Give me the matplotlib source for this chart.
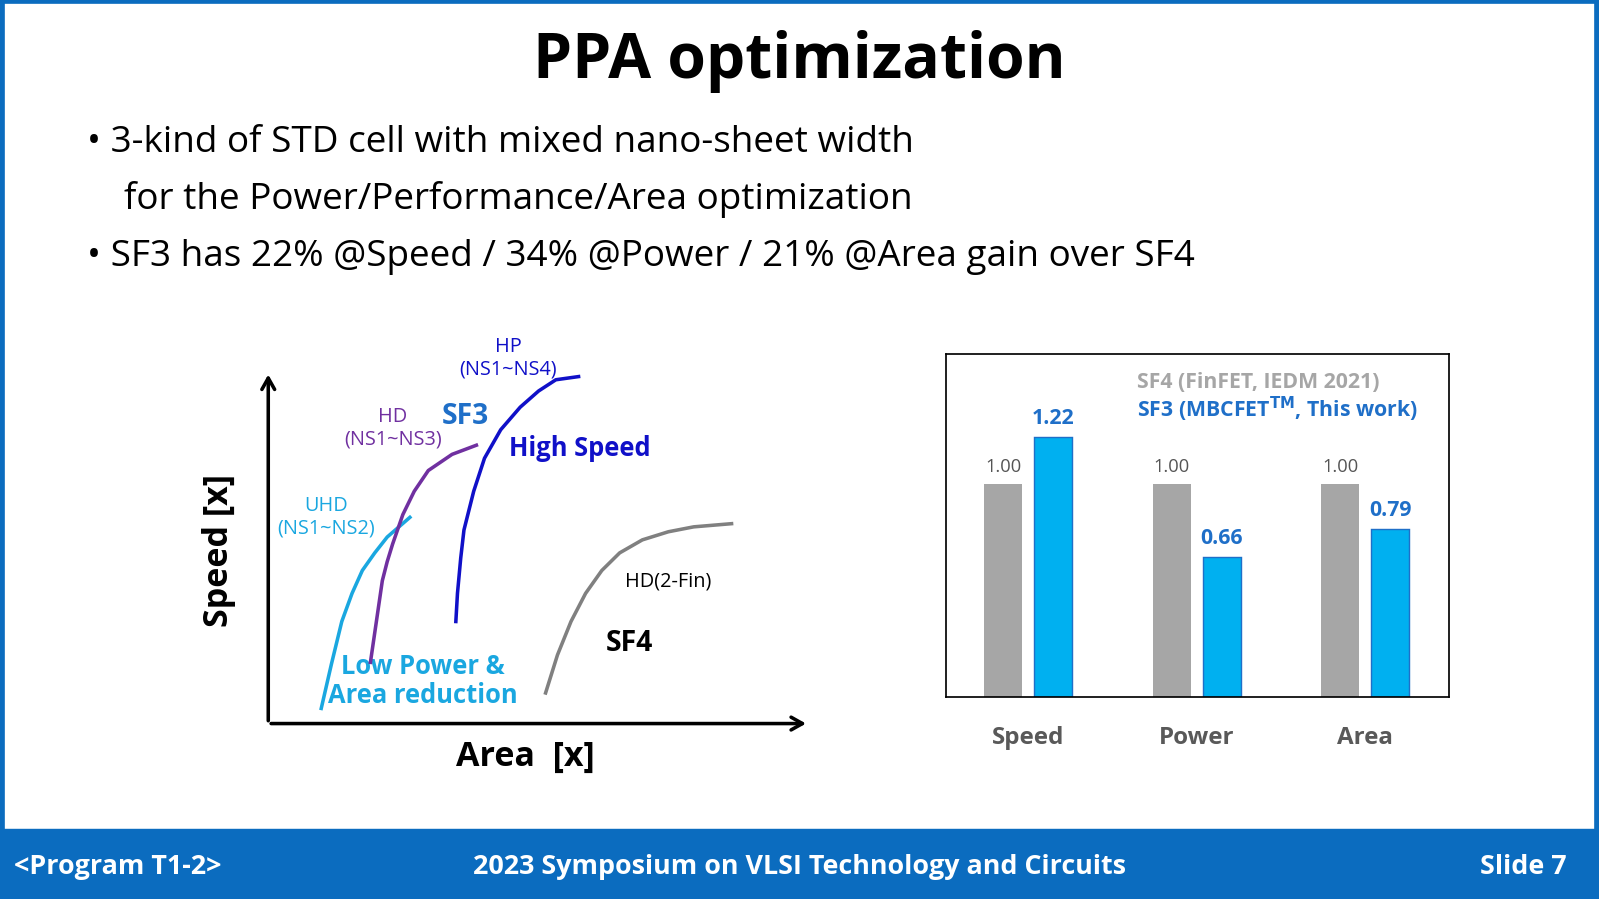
import matplotlib.pyplot as plt
from matplotlib.patches import Rectangle

plt.rcParams['font.family'] = ['Open Sans', 'DejaVu Sans']

# bar chart data
groups = ['Speed', 'Power', 'Area']
sf4 = [1.00, 1.00, 1.00]
sf3 = [1.22, 0.66, 0.79]

# schematic curves (area, speed) in arbitrary units 0..10
uhd_x = [0.98, 1.17, 1.36, 1.55, 1.74, 1.97, 2.2, 2.62]
uhd_y = [0.43, 1.7, 2.9, 3.7, 4.35, 4.85, 5.3, 5.86]
hd_x = [1.89, 2.0, 2.11, 2.2, 2.3, 2.49, 2.7, 2.96, 3.4, 3.85]
hd_y = [1.74, 2.9, 4.06, 4.6, 5.1, 5.94, 6.6, 7.19, 7.65, 7.91]
hp_x = [3.47, 3.5, 3.56, 3.62, 3.8, 4.0, 4.3, 4.66, 5.0, 5.32, 5.74]
hp_y = [2.9, 3.7, 4.7, 5.5, 6.6, 7.54, 8.35, 8.99, 9.45, 9.77, 9.86]
fin_x = [5.13, 5.35, 5.6, 5.87, 6.17, 6.5, 6.92, 7.4, 7.87, 8.57]
fin_y = [0.87, 1.95, 2.9, 3.7, 4.35, 4.85, 5.22, 5.45, 5.59, 5.68]

BLUE = '#0b6cbf'
W, H = 1568, 882
fig = plt.figure(figsize=(15.68, 8.82), dpi=102)
ov = fig.add_axes([0, 0, 1, 1])
ov.set_xlim(0, W)
ov.set_ylim(H, 0)
ov.axis('off')

# frame and footer
ov.add_patch(Rectangle((2, 2), W - 4, H - 4, fill=False, ec=BLUE, lw=4))
ov.add_patch(Rectangle((0, 813), W, 69, color=BLUE))
ov.text(14, 850, '<Program T1-2>', color='white', fontsize=19, va='center', fontweight='bold')
ov.text(784, 850, '2023 Symposium on VLSI Technology and Circuits', color='white',
        fontsize=19, va='center', ha='center', fontweight='bold')
ov.text(1536, 850, 'Slide 7', color='white', fontsize=19, va='center', ha='right', fontweight='bold')

ov.text(784, 60, 'PPA optimization', fontsize=44, fontweight='bold', ha='center', va='center')
ov.text(85, 140, '\u2022 3-kind of STD cell with mixed nano-sheet width', fontsize=26, va='center')
ov.text(122, 196, 'for the Power/Performance/Area optimization', fontsize=26, va='center')
ov.text(85, 252, '\u2022 SF3 has 22% @Speed / 34% @Power / 21% @Area gain over SF4',
        fontsize=26, va='center')

# left schematic
ax = fig.add_axes([263 / W, 1 - 710 / H, 530 / W, 345 / H])
ax.set_xlim(0, 10)
ax.set_ylim(0, 10)
ax.axis('off')
arr = dict(arrowstyle='->,head_length=0.8,head_width=0.45', lw=2.5, color='black')
ax.annotate('', xy=(10, 0), xytext=(0, 0), arrowprops=arr, annotation_clip=False)
ax.annotate('', xy=(0, 10), xytext=(0, 0), arrowprops=arr, annotation_clip=False)
ax.plot(uhd_x, uhd_y, color='#1aa7e0', lw=2.5, clip_on=False)
ax.plot(hd_x, hd_y, color='#7030a0', lw=2.5, clip_on=False)
ax.plot(hp_x, hp_y, color='#1010c8', lw=2.5, clip_on=False)
ax.plot(fin_x, fin_y, color='#808080', lw=2.5, clip_on=False)

ov.text(215, 540, 'Speed [x]', fontsize=24, fontweight='bold', rotation=90, ha='center', va='center')
ov.text(515, 742, 'Area  [x]', fontsize=24, fontweight='bold', ha='center', va='center')
ov.text(320, 507, 'UHD\n(NS1~NS2)', color='#1aa7e0', fontsize=14, ha='center', va='center')
ov.text(385, 420, 'HD\n(NS1~NS3)', color='#7030a0', fontsize=14, ha='center', va='center')
ov.text(498, 351, 'HP\n(NS1~NS4)', color='#1010c8', fontsize=14, ha='center', va='center')
ov.text(456, 408, 'SF3', color='#1f6fc8', fontsize=20, fontweight='bold', ha='center', va='center')
ov.text(568, 440, 'High Speed', color='#1010c8', fontsize=18, fontweight='bold', ha='center', va='center')
ov.text(415, 668, 'Low Power &\nArea reduction', color='#1aa7e0', fontsize=18, fontweight='bold',
        ha='center', va='center', linespacing=1.1)
ov.text(655, 570, 'HD(2-Fin)', fontsize=14, ha='center', va='center')
ov.text(617, 631, 'SF4', fontsize=20, fontweight='bold', ha='center', va='center')

# right bar chart
bx = fig.add_axes([927 / W, 1 - 684 / H, 494 / W, 336 / H])
x = list(range(len(groups)))
bw = 0.225
bx.bar([i - 0.148 for i in x], sf4, width=bw, color='#a6a6a6')
bx.bar([i + 0.148 for i in x], sf3, width=bw, color='#00b0f0', ec='#1f6fc8', lw=1)
for i in x:
    bx.text(i - 0.148, sf4[i] + 0.04, f'{sf4[i]:.2f}', ha='center', va='bottom', fontsize=13, color='#555555')
    bx.text(i + 0.148, sf3[i] + 0.04, f'{sf3[i]:.2f}', ha='center', va='bottom', fontsize=15,
            color='#1f6fc8', fontweight='bold')
bx.set_xlim(-0.49, 2.5)
bx.set_ylim(0, 1.61)
bx.set_yticks([])
bx.set_xticks(x)
bx.set_xticklabels(groups, fontsize=17, fontweight='bold', color='#595959')
bx.tick_params(axis='x', length=0, pad=20)
for s in bx.spines.values():
    s.set_linewidth(1.2)
bx.text(0.38, 0.92, 'SF4 (FinFET, IEDM 2021)', transform=bx.transAxes, fontsize=15,
        fontweight='bold', color='#a6a6a6', va='center')
bx.text(0.38, 0.84, 'SF3 (MBCFET$^{\\mathbf{TM}}$, This work)', transform=bx.transAxes, fontsize=15,
        fontweight='bold', color='#1f6fc8', va='center')

fig.savefig('out.png', dpi=102)
